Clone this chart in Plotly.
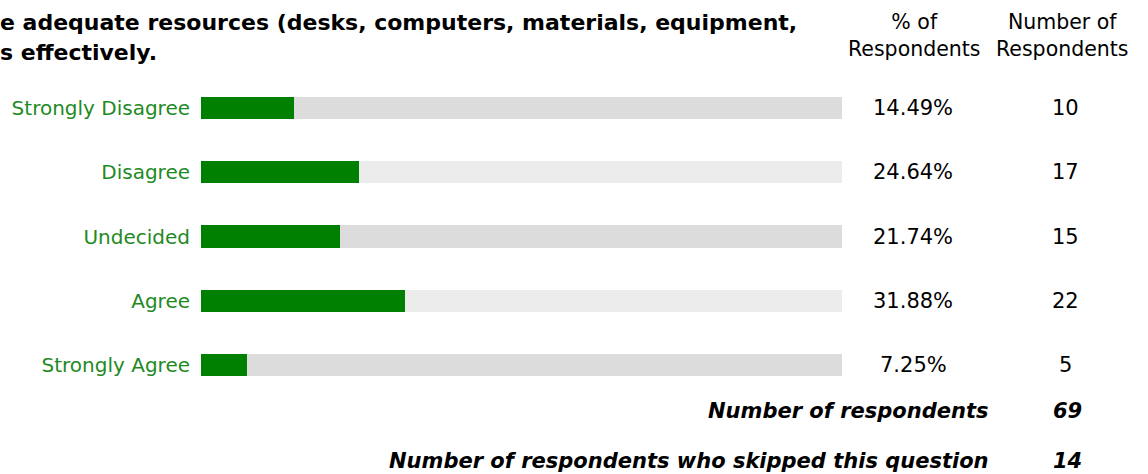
import plotly.graph_objects as go

W, H = 1148, 474

# ---- data ----
categories = ["Strongly Disagree", "Disagree", "Undecided", "Agree", "Strongly Agree"]
percents = [14.49, 24.64, 21.74, 31.88, 7.25]
counts = [10, 17, 15, 22, 5]
track_colors = ["#dcdcdc", "#ececec", "#dcdcdc", "#ececec", "#dcdcdc"]
title_lines = ["e adequate resources (desks, computers, materials, equipment,", "s effectively."]
header_pct = "% of<br>Respondents"
header_cnt = "Number of<br>Respondents"
footer_labels = ["Number of respondents", "Number of respondents who skipped this question"]
footer_values = [69, 14]

FONT = "DejaVu Sans"
GREEN = "#008000"
LABEL_GREEN = "#1f8a1f"

def px(x):
    return x / W

def py(y):
    return 1 - y / H

fig = go.Figure()
fig.add_trace(go.Bar(
    x=[100] * len(categories), y=categories, orientation="h",
    marker=dict(color=track_colors, line=dict(width=0)),
    width=0.345, hoverinfo="skip", showlegend=False,
))
fig.add_trace(go.Bar(
    x=percents, y=categories, orientation="h",
    marker=dict(color=GREEN, line=dict(width=0)),
    width=0.345, showlegend=False,
))

annotations = []
for cat, p, c in zip(categories, percents, counts):
    annotations.append(dict(x=px(913), xref="paper", y=cat, yref="y", text=f"{p:.2f}%",
                            showarrow=False, xanchor="center", yanchor="middle",
                            font=dict(family=FONT, size=21, color="#000")))
    annotations.append(dict(x=px(1065), xref="paper", y=cat, yref="y", text=str(c),
                            showarrow=False, xanchor="center", yanchor="middle",
                            font=dict(family=FONT, size=21, color="#000")))

annotations.append(dict(x=px(915), xref="paper", y=py(36), yref="paper", text=header_pct,
                        showarrow=False, xanchor="center", yanchor="middle", align="center",
                        font=dict(family=FONT, size=20.5, color="#000")))
annotations.append(dict(x=px(1062), xref="paper", y=py(36), yref="paper", text=header_cnt,
                        showarrow=False, xanchor="center", yanchor="middle", align="center",
                        font=dict(family=FONT, size=20.5, color="#000")))

for i, line in enumerate(title_lines):
    annotations.append(dict(x=px(-2), xref="paper", y=py(23 + 29 * i), yref="paper", text=f"<b>{line}</b>",
                            showarrow=False, xanchor="left", yanchor="middle",
                            font=dict(family=FONT, size=22, color="#000")))

for i, (lab, val) in enumerate(zip(footer_labels, footer_values)):
    yy = py(411 + 50 * i)
    annotations.append(dict(x=px(991), xref="paper", y=yy, yref="paper", text=f"<b><i>{lab}</i></b>",
                            showarrow=False, xanchor="right", yanchor="middle",
                            font=dict(family=FONT, size=21, color="#000")))
    annotations.append(dict(x=px(1067), xref="paper", y=yy, yref="paper", text=f"<b><i>{val}</i></b>",
                            showarrow=False, xanchor="center", yanchor="middle",
                            font=dict(family=FONT, size=21, color="#000")))

row_top, row_bot = 76, 397
fig.update_layout(
    width=W, height=H,
    margin=dict(l=0, r=0, t=0, b=0),
    paper_bgcolor="#fff", plot_bgcolor="#fff",
    barmode="overlay", bargap=0,
    xaxis=dict(domain=[px(201), px(842)], range=[0, 100], visible=False, fixedrange=True),
    yaxis=dict(domain=[py(row_bot), py(row_top)], categoryorder="array", categoryarray=categories,
               range=[4.5, -0.5], showgrid=False, zeroline=False, showline=False, ticks="",
               ticklabelstandoff=10, fixedrange=True,
               tickfont=dict(family=FONT, size=20, color=LABEL_GREEN)),
    annotations=annotations,
    font=dict(family=FONT),
)

fig.write_html("out.html", config={"displayModeBar": False},
               post_script="document.body.style.margin='0';document.body.style.padding='0';")
